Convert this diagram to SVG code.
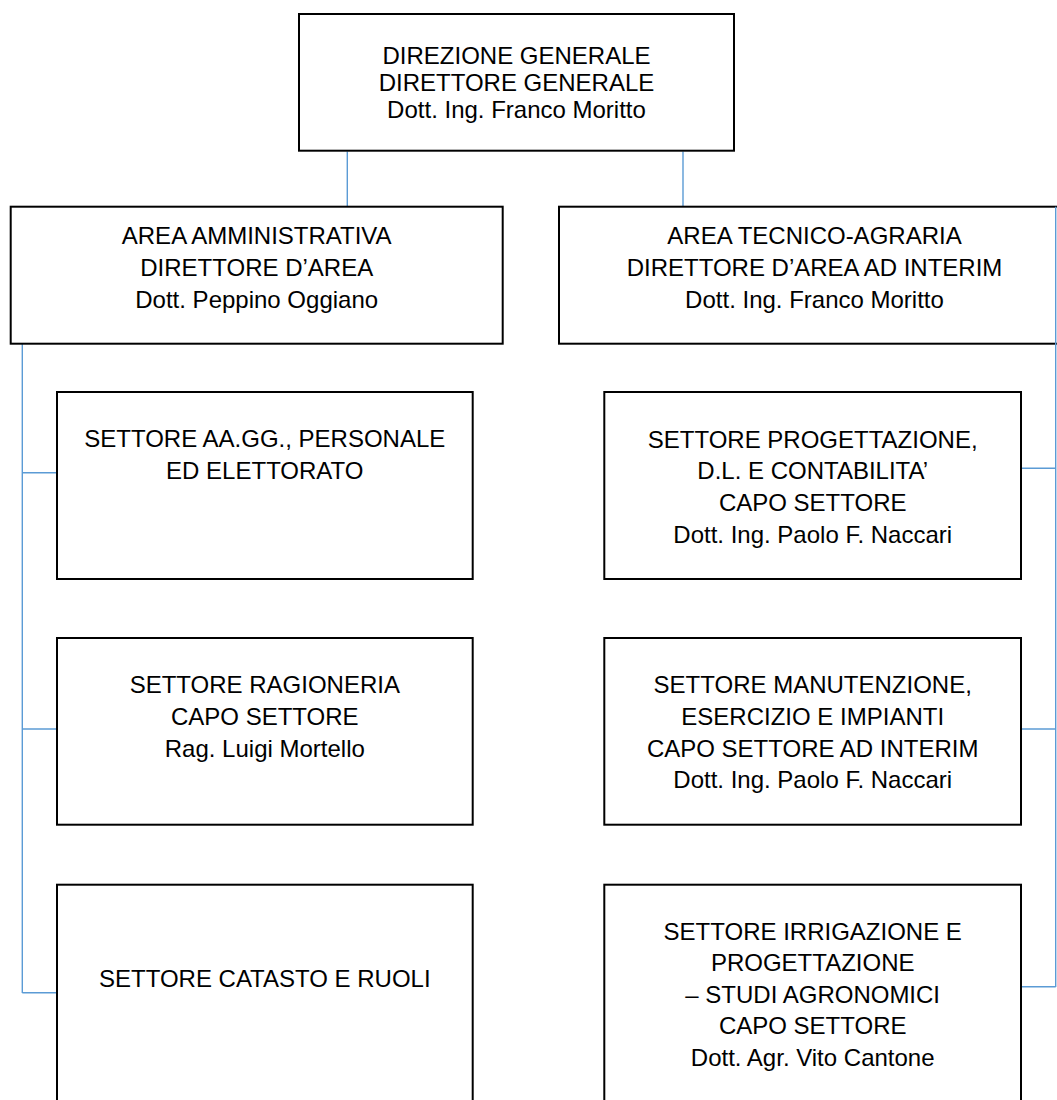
<svg xmlns="http://www.w3.org/2000/svg" width="1057" height="1100" viewBox="0 0 1057 1100">
<style>
.box{fill:#ffffff;stroke:#000000;stroke-width:2}
.t{font-family:"Liberation Sans",Arial,sans-serif;font-size:24px;fill:#000000;text-anchor:middle}
.c{stroke:#5b9bd5;stroke-width:1.4;fill:none}
</style>
<rect width="1057" height="1100" fill="#ffffff"/>
<g id="connectors">
<line class="c" x1="347.3" y1="151.5" x2="347.3" y2="206"/>
<line class="c" x1="683" y1="151.5" x2="683" y2="206"/>
<line class="c" x1="22.3" y1="344" x2="22.3" y2="993"/>
<line class="c" x1="22.3" y1="472.7" x2="57" y2="472.7"/>
<line class="c" x1="22.3" y1="729" x2="57" y2="729"/>
<line class="c" x1="22.3" y1="992.7" x2="57" y2="992.7"/>
<line class="c" x1="1021" y1="468.3" x2="1055.7" y2="468.3"/>
<line class="c" x1="1021" y1="729" x2="1055.7" y2="729"/>
<line class="c" x1="1021" y1="986.7" x2="1055.7" y2="986.7"/>
</g>
<g id="direzione-generale">
<rect class="box" x="299" y="14" width="435" height="136.7"/>
<text class="t" x="516.5" y="64">DIREZIONE GENERALE</text>
<text class="t" x="516.5" y="91">DIRETTORE GENERALE</text>
<text class="t" x="516.5" y="118">Dott. Ing. Franco Moritto</text>
</g>
<g id="area-amministrativa">
<rect class="box" x="10.7" y="206.7" width="492" height="137"/>
<text class="t" x="256.7" y="244">AREA AMMINISTRATIVA</text>
<text class="t" x="256.7" y="276">DIRETTORE D’AREA</text>
<text class="t" x="256.7" y="307.5">Dott. Peppino Oggiano</text>
</g>
<g id="area-tecnico-agraria">
<rect class="box" x="559" y="206.7" width="511" height="137"/>
<text class="t" x="814.5" y="244">AREA TECNICO-AGRARIA</text>
<text class="t" x="814.5" y="276">DIRETTORE D’AREA AD INTERIM</text>
<text class="t" x="814.5" y="307.5">Dott. Ing. Franco Moritto</text>
</g>
<line class="c" x1="1055.7" y1="206.7" x2="1055.7" y2="987"/>
<g id="settore-aagg">
<rect class="box" x="57" y="392" width="415.7" height="187"/>
<text class="t" x="264.8" y="447.3">SETTORE AA.GG., PERSONALE</text>
<text class="t" x="264.8" y="478.9">ED ELETTORATO</text>
</g>
<g id="settore-ragioneria">
<rect class="box" x="57" y="638" width="415.7" height="186.7"/>
<text class="t" x="264.8" y="693.3">SETTORE RAGIONERIA</text>
<text class="t" x="264.8" y="725">CAPO SETTORE</text>
<text class="t" x="264.8" y="756.6">Rag. Luigi Mortello</text>
</g>
<g id="settore-catasto">
<rect class="box" x="57" y="884.7" width="415.7" height="240"/>
<text class="t" x="264.8" y="986.7">SETTORE CATASTO E RUOLI</text>
</g>
<g id="settore-progettazione">
<rect class="box" x="604.3" y="392" width="416.7" height="187"/>
<text class="t" x="812.7" y="447.8">SETTORE PROGETTAZIONE,</text>
<text class="t" x="812.7" y="479.4">D.L. E CONTABILITA’</text>
<text class="t" x="812.7" y="511">CAPO SETTORE</text>
<text class="t" x="812.7" y="542.6">Dott. Ing. Paolo F. Naccari</text>
</g>
<g id="settore-manutenzione">
<rect class="box" x="604.3" y="638" width="416.7" height="186.7"/>
<text class="t" x="812.7" y="693.3">SETTORE MANUTENZIONE,</text>
<text class="t" x="812.7" y="725">ESERCIZIO E IMPIANTI</text>
<text class="t" x="812.7" y="756.6">CAPO SETTORE AD INTERIM</text>
<text class="t" x="812.7" y="788.2">Dott. Ing. Paolo F. Naccari</text>
</g>
<g id="settore-irrigazione">
<rect class="box" x="604.3" y="884.7" width="416.7" height="240"/>
<text class="t" x="812.7" y="940">SETTORE IRRIGAZIONE E</text>
<text class="t" x="812.7" y="971.3">PROGETTAZIONE</text>
<text class="t" x="812.7" y="1002.8">– STUDI AGRONOMICI</text>
<text class="t" x="812.7" y="1034.4">CAPO SETTORE</text>
<text class="t" x="812.7" y="1066">Dott. Agr. Vito Cantone</text>
</g>
</svg>
